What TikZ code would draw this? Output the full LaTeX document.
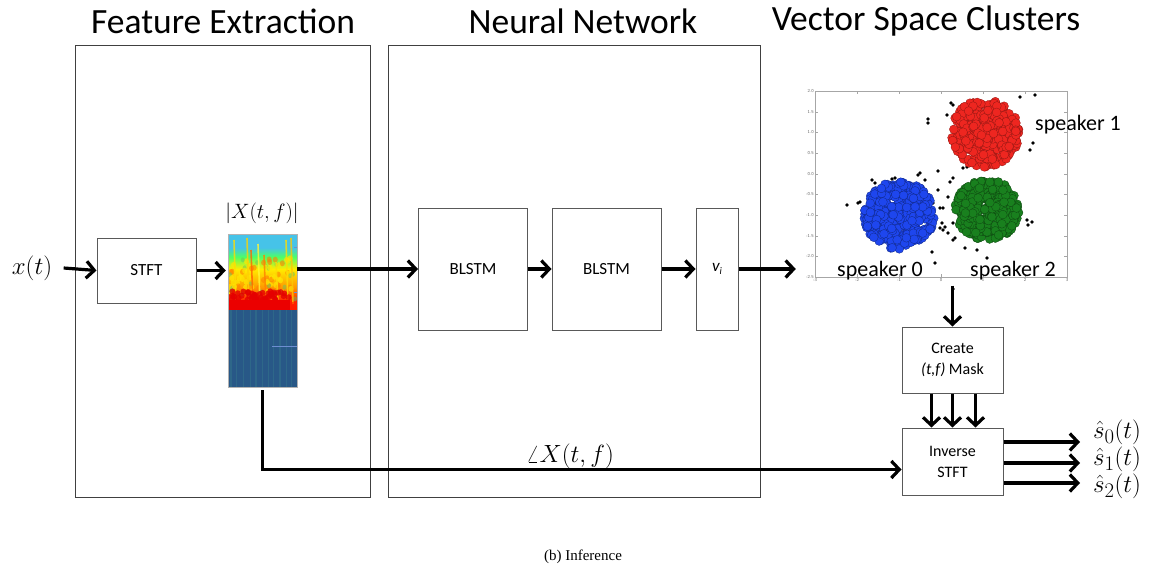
\documentclass[tikz,border=0pt]{standalone}
\usepackage{fontspec}
\setmainfont{Liberation Serif}
\newfontfamily\calfont{Carlito}
\usetikzlibrary{arrows.meta,calc}
\definecolor{clred}{RGB}{238,38,32}
\definecolor{clblue}{RGB}{30,70,238}
\definecolor{clgreen}{RGB}{25,128,30}
\definecolor{specbot}{RGB}{40,88,135}
\definecolor{specstreak}{RGB}{52,118,140}
\definecolor{speccyan}{RGB}{70,195,232}
\pgfdeclareverticalshading{specshade}{100bp}{color(0bp)=(red); color(25bp)=(red); color(30bp)=(red!85!orange); color(40bp)=(orange!80!yellow); color(52bp)=(yellow!85!orange); color(60bp)=(yellow!50!green!60!cyan); color(66bp)=(speccyan); color(75bp)=(speccyan); color(100bp)=(speccyan)}
\tikzset{
  panel/.style={draw=black!75, line width=0.8pt},
  blk/.style={draw=black!65, line width=1pt, fill=white, inner sep=0pt, align=center,
    font=\calfont\fontsize{17}{20}\selectfont},
  arr/.style={line width=3.2pt, -{Straight Barb[length=8pt,width=17pt]}},
  ttl/.style={font=\calfont\fontsize{35.5}{38}\selectfont},
  spk/.style={font=\calfont\fontsize{22}{24}\selectfont},
  tick/.style={font=\sffamily\fontsize{4.5}{5}\selectfont, text=black!60, inner sep=1pt},
  redpt/.style={fill=clred, draw=clred!60!black, line width=0.3pt},
  bluept/.style={fill=clblue, draw=clblue!55!black, line width=0.3pt},
  greenpt/.style={fill=clgreen, draw=clgreen!55!black, line width=0.3pt},
}
\begin{document}
\begin{tikzpicture}[x=1pt,y=-1pt]
\useasboundingbox (0,0) rectangle (1151,573);

% titles
\node[ttl] (t1) at (223,21) {Feature Extraction};
\node[ttl] (t2) at (583,21) {Neural Network};
\node[ttl] (t3) at (926,21) {Vector Space Clusters};

% panels
\draw[panel] (75,45) rectangle (370,497);
\draw[panel] (388,45) rectangle (760,497);

% input
\node[font=\fontsize{29}{32}\selectfont] (xt) at (32,268) {$x(t)$};
\node[blk, minimum width=99pt, minimum height=65pt] (stft) at (146.5,270.5) {STFT};

% spectrogram
\node[minimum width=69pt, minimum height=153pt, inner sep=0pt] (spec) at (262.5,310.5) {};
\shade[shading=specshade] (228,234) rectangle (297,310);
\begin{scope}
\clip (228,234) rectangle (297,310);
\pgfmathsetseed{11}
\foreach \i in {1,...,80}{
  \pgfmathsetmacro\px{229+67*rnd}
  \pgfmathsetmacro\py{258+42*rnd}
  \pgfmathsetmacro\c{rnd}
  \ifdim\c pt<0.35pt
    \fill[yellow!90!orange, opacity=0.7] (\px,\py) ellipse (2.5pt and 3pt);
  \else\ifdim\c pt<0.7pt
    \fill[orange, opacity=0.6] (\px,\py) ellipse (2.5pt and 3pt);
  \else
    \fill[cyan!40!green!60!yellow, opacity=0.5] (\px,\py) ellipse (2pt and 2.5pt);
  \fi\fi
}
\foreach \sx/\sy/\col in {234/240/yellow!80!orange, 247/238/yellow!70!orange, 251/250/orange!80!red, 258/244/yellow!80, 264/255/orange, 286/240/yellow!80!orange, 291/238/yellow!60!orange, 276/262/yellow!80!orange}{
  \draw[\col, line width=1.6pt, opacity=0.8] (\sx,\sy) -- (\sx+2,304);
}
\pgfmathsetseed{5}
\foreach \i in {1,...,45}{
  \pgfmathsetmacro\px{229+60*rnd}
  \pgfmathsetmacro\py{291+9*rnd}
  \fill[red!90!black, opacity=0.8] (\px,\py) circle (3pt);
}
\fill[red!92!black] (228,300) rectangle (290,310);
\fill[red!70!orange, opacity=.7] (290,302) rectangle (297,310);
\end{scope}
\fill[specbot] (228,310) rectangle (297,387);
\begin{scope}
\clip (228,310) rectangle (297,387);
\foreach \sx/\w in {231/1.5, 236/0.8, 243/1, 250/0.8, 256/1.4, 262/0.8, 268/1, 273/0.7, 280/1.2, 286/0.8, 291/1}{
  \draw[specstreak, line width=\w pt, opacity=0.5] (\sx,310) -- (\sx,387);
}
\draw[cyan!40!blue!60, line width=1pt] (272,346) -- (297,346);
\end{scope}
\draw[cyan!40!blue!60, line width=0.8pt] (294,247) -- (298,247) (294,292) -- (298,292);
\draw[black!30, line width=0.4pt] (228,234) rectangle (297,387);
\node[font=\fontsize{20}{24}\selectfont] (mag) at (262,213) {$\bigl|X(t,f)\bigr|$};

% network
\node[blk, minimum width=109pt, minimum height=122pt] (b1) at (473,269) {BLSTM};
\node[blk, minimum width=109pt, minimum height=122pt] (b2) at (606.5,269) {BLSTM};
\node[blk, minimum width=42pt, minimum height=122pt] (vi) at (717,269) {\itshape v\raisebox{-3pt}{\fontsize{10}{10}\selectfont i}};

% scatter plot
\node[minimum width=272pt, minimum height=197pt, inner sep=0pt] (plot) at (932,187) {};
\draw[black!35, line width=0.5pt] (815,91) rectangle (1067,277);
\foreach \v [count=\k from 0] in {2.0,1.5,1.0,0.5,0.0,-0.5,-1.0,-1.5,-2.0,-2.5}{
  \node[tick, anchor=east] (yl\k) at (815,{91+20.67*\k}) {\v};
  \draw[black!35, line width=0.3pt] (815,{91+20.67*\k}) -- (818,{91+20.67*\k}) (1067,{91+20.67*\k}) -- (1064,{91+20.67*\k});
}
\foreach \v [count=\k from 0] in {-3,-2,-1,0,1,2,3}{
  \node[tick, anchor=north] (xl\k) at ({815+42*\k},277) {\v};
  \draw[black!35, line width=0.3pt] ({815+42*\k},277) -- ({815+42*\k},274) ({815+42*\k},91) -- ({815+42*\k},94);
}
% black outliers
\foreach \px/\py in {928/123,928/119,947/115,951/103,953/105,1020/97,1035/95,1010/113,1033/143,1017/127,963/168,967/167,938/171,920/173,918/175,925/180,895/178,892/179,872/180,875/183,953/178,950/182,938/190,933/203,940/208,943/208,948/197,847/205,858/203,860/202,942/223,945/227,940/228,943/230,1027/220,1028/225,1032/222,953/240,955/238,977/250,965/248,987/258,935/263,953/223,948/233,932/252,1030/150,953/289}{
  \fill[black] (\px,\py) circle (1.8pt);
}
% clusters
\pgfmathsetseed{42}
\foreach \i in {1,...,340}{
  \pgfmathsetmacro\a{360*rnd}
  \pgfmathsetmacro\r{sqrt(rnd)}
  \path[redpt] ({985+34*\r*cos(\a)},{133+34*\r*sin(\a)}) circle (4.4pt);
}
\foreach \i in {1,...,340}{
  \pgfmathsetmacro\a{360*rnd}
  \pgfmathsetmacro\r{sqrt(rnd)}
  \path[bluept] ({899+35*\r*cos(\a)},{215+34*\r*sin(\a)}) circle (4.4pt);
}
\foreach \i in {1,...,320}{
  \pgfmathsetmacro\a{360*rnd}
  \pgfmathsetmacro\r{sqrt(rnd)}
  \path[greenpt] ({987+32*\r*cos(\a)},{210+30*\r*sin(\a)}) circle (4.4pt);
}
\node[spk] (s1) at (1078,125) {speaker 1};
\node[spk] (s0) at (880,271) {speaker 0};
\node[spk] (s2) at (1013,271) {speaker 2};

% mask and inverse
\node[blk, minimum width=101pt, minimum height=66pt, font=\calfont\fontsize{16}{21}\selectfont] (mask) at (952.5,360) {Create\\\textit{(t,f)} Mask};
\node[blk, minimum width=101pt, minimum height=67pt, font=\calfont\fontsize{16}{21}\selectfont] (istft) at (952.5,461.5) {Inverse\\STFT};

% connectors
\draw[arr] ([xshift=8pt]xt.east) -- (stft.west);
\draw[arr] (stft.east) -- ([xshift=-2pt]spec.west |- stft.east);
\draw[arr] (spec.east |- b1.west) -- (b1.west);
\draw[arr] (b1.east) -- (b2.west);
\draw[arr] (b2.east) -- (vi.west);
\draw[arr] (vi.east) -- (plot.west |- vi.east);
\draw[arr] (plot.south -| mask.north) -- (mask.north);
\foreach \dx in {-21,0,23}{
  \draw[arr] ([xshift=\dx pt]mask.south) -- ([xshift=\dx pt]istft.north);
}
\draw[arr] ([yshift=-3pt]spec.south) |- ([yshift=-8pt]istft.west);
\node[font=\fontsize{23}{26}\selectfont] (ang) at (570,456) {$\angle X(t,f)$};

\coordinate (o0) at (1080,442);
\coordinate (o1) at (1080,463);
\coordinate (o2) at (1080,483);
\draw[arr] (istft.east |- o0) -- (o0);
\draw[arr] (istft.east |- o1) -- (o1);
\draw[arr] (istft.east |- o2) -- (o2);
\node[font=\fontsize{28}{30}\selectfont] (l0) at (1117,432) {$\hat{s}_0(t)$};
\node[font=\fontsize{28}{30}\selectfont] (l1) at (1117,459) {$\hat{s}_1(t)$};
\node[font=\fontsize{28}{30}\selectfont] (l2) at (1117,486) {$\hat{s}_2(t)$};

% caption
\node[font=\fontsize{15}{17}\selectfont] (cap) at (583,557) {(b) Inference};
\end{tikzpicture}
\end{document}
